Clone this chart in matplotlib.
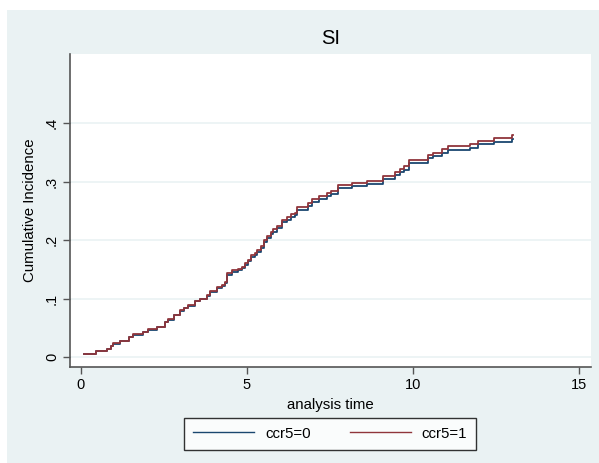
import matplotlib
matplotlib.use("Agg")
import matplotlib.pyplot as plt
from matplotlib.patches import Rectangle
from matplotlib.lines import Line2D

plt.rcParams['font.family'] = ['Liberation Sans', 'DejaVu Sans']

title = "SI"
xlabel = "analysis time"
ylabel = "Cumulative Incidence"
series_names = ["ccr5=0", "ccr5=1"]
xticks = [0, 5, 10, 15]
yticks = [0, 0.1, 0.2, 0.3, 0.4]
ytick_labels = ["0", ".1", ".2", ".3", ".4"]

# step times (start of each step) and end of follow-up
times = [0.10, 0.45, 0.78, 0.90, 0.96, 1.17, 1.45, 1.57, 1.87, 2.02,
         2.29, 2.53, 2.62, 2.80, 2.98, 3.10, 3.22, 3.43, 3.58, 3.78,
         3.90, 4.09, 4.24, 4.34, 4.41, 4.54, 4.74, 4.84, 4.94, 5.04,
         5.11, 5.24, 5.31, 5.41, 5.51, 5.61, 5.71, 5.79, 5.89, 6.04,
         6.20, 6.32, 6.45, 6.52, 6.85, 6.95, 7.18, 7.42, 7.52, 7.75,
         8.15, 8.62, 9.09, 9.46, 9.61, 9.74, 9.89, 10.46, 10.61, 10.86,
         11.06, 11.72, 11.97, 12.44, 12.97]
end_time = 13.02

ci_ccr5_1 = [0.005, 0.010, 0.014, 0.018, 0.024, 0.028, 0.035, 0.039, 0.043, 0.048,
             0.052, 0.060, 0.065, 0.072, 0.080, 0.084, 0.089, 0.096, 0.100, 0.106,
             0.113, 0.120, 0.123, 0.129, 0.143, 0.148, 0.150, 0.154, 0.160, 0.166,
             0.174, 0.177, 0.183, 0.190, 0.200, 0.207, 0.214, 0.218, 0.224, 0.234,
             0.239, 0.244, 0.247, 0.256, 0.263, 0.270, 0.275, 0.280, 0.284, 0.294,
             0.297, 0.301, 0.309, 0.316, 0.321, 0.326, 0.337, 0.345, 0.349, 0.355,
             0.360, 0.364, 0.369, 0.374, 0.379]

ci_ccr5_0 = [0.005, 0.010, 0.014, 0.018, 0.023, 0.027, 0.034, 0.038, 0.042, 0.047,
             0.051, 0.059, 0.064, 0.071, 0.079, 0.083, 0.088, 0.095, 0.099, 0.105,
             0.111, 0.118, 0.121, 0.127, 0.141, 0.146, 0.148, 0.152, 0.158, 0.164,
             0.171, 0.174, 0.180, 0.187, 0.197, 0.204, 0.211, 0.214, 0.220, 0.230,
             0.235, 0.240, 0.243, 0.251, 0.258, 0.265, 0.270, 0.275, 0.279, 0.289,
             0.292, 0.296, 0.304, 0.311, 0.316, 0.320, 0.332, 0.340, 0.344, 0.349,
             0.354, 0.358, 0.364, 0.368, 0.372]

colors = ["#1a476f", "#90353b"]
bg = "#EAF2F3"

W, H = 599, 463
fig = plt.figure(figsize=(W / 100, H / 100), dpi=100, facecolor="white")
fig.patches.append(Rectangle((7 / W, 0), 1 - 7 / W, 1 - 10 / H, transform=fig.transFigure,
                             facecolor=bg, edgecolor="none", zorder=-10))

l, r, t, b = 70, 591, 54, 367
ax = fig.add_axes([l / W, 1 - b / H, (r - l) / W, (b - t) / H])
ax.set_facecolor("white")

x_all = times + [end_time]
for vals, c, name in [(ci_ccr5_0, colors[0], series_names[0]),
                      (ci_ccr5_1, colors[1], series_names[1])]:
    y_all = vals + [vals[-1]]
    ax.step(x_all, y_all, where="post", color=c, lw=1.3, label=name)

ax.set_xlim(-0.331, 15.36)
ax.set_ylim(-0.0171, 0.518)
ax.set_xticks(xticks)
ax.set_xticklabels([str(v) for v in xticks])
ax.set_yticks(yticks)
ax.set_yticklabels(ytick_labels, rotation=90, va="center")
ax.grid(axis="y", color=bg, lw=1.2)
ax.set_axisbelow(True)
for s in ["top", "right"]:
    ax.spines[s].set_visible(False)
for s in ["left", "bottom"]:
    ax.spines[s].set_color("#555555")
    ax.spines[s].set_linewidth(1.2)
ax.tick_params(axis="both", length=5, width=1, color="#555555", labelsize=10.5,
               labelcolor="black", pad=3)

ax.set_xlabel(xlabel, fontsize=10.8, labelpad=4)
ax.set_ylabel(ylabel, fontsize=10.8, labelpad=6)
ax.set_title(title, fontsize=14.5, pad=7)

handles = [Line2D([], [], color=colors[0], lw=1.0), Line2D([], [], color=colors[1], lw=1.0)]
leg = fig.legend(handles, series_names, ncol=2, loc="center",
                 bbox_to_anchor=(330 / W, 1 - 433.5 / H),
                 fontsize=10.8, handlelength=4.1, handletextpad=0.7,
                 columnspacing=2.6, borderpad=0.6, fancybox=False, frameon=True,
                 borderaxespad=0)
leg.get_frame().set_edgecolor("black")
leg.get_frame().set_linewidth(1.0)
leg.get_frame().set_facecolor("white")

fig.savefig("out.png", dpi=100, facecolor=fig.get_facecolor())
